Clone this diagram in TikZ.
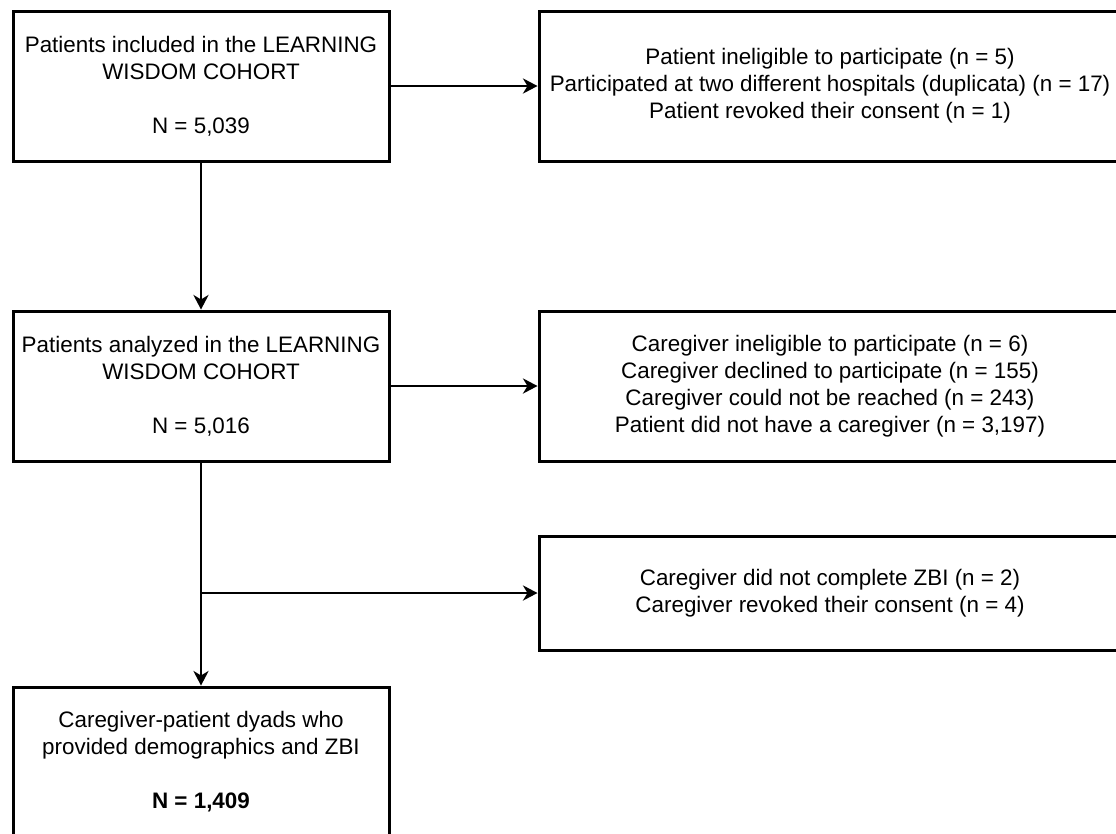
\documentclass[tikz,border=0pt]{standalone}
\usepackage{fontspec}
\setmainfont{Liberation Sans}
\usetikzlibrary{arrows.meta}
\begin{document}
\begin{tikzpicture}[x=0.75pt,y=-0.75pt,
  box/.style={draw=black,line width=2.25pt,align=center,inner sep=0pt,
    font=\fontsize{16.8}{20.2}\selectfont},
  leftbox/.style={box,minimum width=282pt,minimum height=112.5pt},
  rightbox/.style={box,minimum width=436.5pt},
  arr/.style={draw=black,line width=1.1pt,-{Stealth[length=11pt,width=11.5pt,inset=3.5pt]}}]
\useasboundingbox (0,0) rectangle (1116,833);
\clip (0,0) rectangle (1116,833);
\node[leftbox] (A) at (201,86) {Patients included in the LEARNING\\WISDOM COHORT\\[20.2pt]N = 5,039};
\node[rightbox,minimum height=112.5pt] (B) at (830,86) {Patient ineligible to participate (n = 5)\\Participated at two different hospitals (duplicata) (n = 17)\\Patient revoked their consent (n = 1)};
\node[leftbox] (C) at (201,386) {Patients analyzed in the LEARNING\\WISDOM COHORT\\[20.2pt]N = 5,016};
\node[rightbox,minimum height=112.5pt] (D) at (830,386) {Caregiver ineligible to participate (n = 6)\\Caregiver declined to participate (n = 155)\\Caregiver could not be reached (n = 243)\\Patient did not have a caregiver (n = 3,197)};
\node[rightbox,minimum height=85.5pt] (E) at (830,593) {Caregiver did not complete ZBI (n = 2)\\Caregiver revoked their consent (n = 4)};
\node[leftbox] (F) at (201,762) {Caregiver-patient dyads who\\provided demographics and ZBI\\[20.2pt]\textbf{N = 1,409}};
\coordinate (br) at (201,593);
\draw[arr] (A) -- (B);
\draw[arr] (A) -- (C);
\draw[arr] (C) -- (D);
\draw[arr] (C) -- (F);
\draw[arr] (br) -- (E);
\end{tikzpicture}
\end{document}
